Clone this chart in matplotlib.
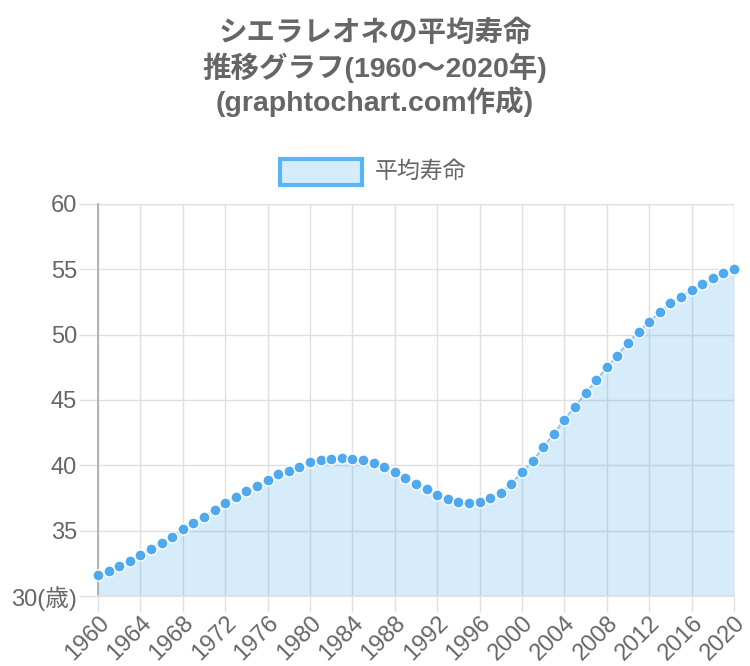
import numpy as np
import matplotlib
matplotlib.use("Agg")
import matplotlib.pyplot as plt
from matplotlib.patches import Rectangle

plt.rcParams['font.family'] = ['Liberation Sans', 'Noto Sans CJK JP', 'DejaVu Sans']

#Data
years = np.arange(1960, 2021)
life = [31.6, 31.9, 32.3, 32.7, 33.1, 33.6, 34.05, 34.5, 35.1, 35.6,
        36.05, 36.6, 37.1, 37.6, 38.0, 38.4, 38.9, 39.3, 39.6, 39.9,
        40.25, 40.4, 40.5, 40.55, 40.5, 40.4, 40.2, 39.9, 39.5, 39.0,
        38.6, 38.2, 37.7, 37.4, 37.2, 37.1, 37.2, 37.5, 37.9, 38.6,
        39.5, 40.3, 41.4, 42.4, 43.5, 44.5, 45.5, 46.5, 47.5, 48.4,
        49.4, 50.2, 51.0, 51.7, 52.4, 52.9, 53.4, 53.9, 54.3, 54.7,
        55.0]
yticks = [30, 35, 40, 45, 50, 55, 60]
ytick_labels = ["30(歳)", "35", "40", "45", "50", "55", "60"]
xticks = list(range(1960, 2021, 4))
title_lines = ["シエラレオネの平均寿命",
               "推移グラフ(1960～2020年)",
               "(graphtochart.com作成)"]
series_name = "平均寿命"

#Colors
txt_col = "#666666"
grid_col = "#e0e0e0"
axis_col = "#a8a8a8"
fill_rgb = "#36a2eb"
fill_col = "#d7ecfb"
line_col = "#8ccaf5"
dot_col = "#4ea9ef"
legend_edge = "#5ab4f6"

fig = plt.figure(figsize=(7.5, 6.66), dpi=100)
ax = fig.add_axes([98/750, 1-596/666, (734-98)/750, (596-204)/666])

#Filled area (semi-transparent, grid shows through) and dotted line
ax.fill_between(years, life, 30, color=fill_rgb, alpha=0.2, zorder=1, linewidth=0)
ax.plot(years, life, color=line_col, linewidth=1.5, zorder=3, clip_on=False)
ax.plot(years, life, linestyle="none", marker="o", markersize=8,
        markerfacecolor=dot_col, markeredgecolor="white", markeredgewidth=1.0,
        zorder=4, clip_on=False)

ax.set_xlim(1960, 2020)
ax.set_ylim(30, 60)
ax.set_xticks(xticks)
ax.set_xticklabels([str(x) for x in xticks], rotation=45, ha="right",
                   rotation_mode="anchor", fontsize=17, color=txt_col)
ax.set_yticks(yticks)
ax.set_yticklabels(ytick_labels, fontsize=17, color=txt_col)

ax.grid(True, color=grid_col, linewidth=1, zorder=0)
ax.set_axisbelow(True)
ax.tick_params(axis="x", length=11.5, width=1, color=grid_col, pad=0)
ax.tick_params(axis="y", length=14, width=1, color=grid_col, pad=1)

for s in ["top", "right"]:
    ax.spines[s].set_visible(False)
ax.spines["left"].set_color(axis_col)
ax.spines["bottom"].set_color(grid_col)
ax.spines["left"].set_linewidth(1.2)
ax.spines["bottom"].set_linewidth(1.2)
ax.axvline(2020, color=grid_col, linewidth=1, zorder=0)
ax.axhline(60, color=grid_col, linewidth=1, zorder=0)

#Title
for i, t in enumerate(title_lines):
    fig.text(0.5, 1 - (33 + 34.5*i)/666, t, ha="center", va="center",
             fontsize=20.5, fontweight="bold", color=txt_col)

#Legend
fig.patches.append(Rectangle((280/750, 1-185/666), 82/750, 26/666,
                             transform=fig.transFigure, facecolor=fill_col,
                             edgecolor=legend_edge, linewidth=3))
fig.text(375/750, 1-171/666, series_name, ha="left", va="center",
         fontsize=16.5, color=txt_col)

fig.savefig("out.png", dpi=100)
